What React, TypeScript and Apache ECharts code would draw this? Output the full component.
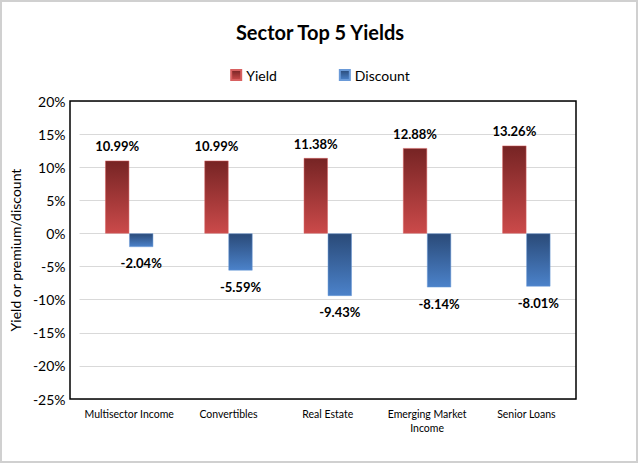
import React, { useEffect, useRef } from "react";
import * as echarts from "echarts";

const categories = ["Multisector Income", "Convertibles", "Real Estate", "Emerging Market\nIncome", "Senior Loans"];
const yieldValues = [10.99, 10.99, 11.38, 12.88, 13.26];
const discountValues = [-2.04, -5.59, -9.43, -8.14, -8.01];
const seriesNames = ["Yield", "Discount"];
const yMin = -25;
const yMax = 20;
const yInterval = 5;

const FONT = "Lato, 'Open Sans', sans-serif";

export default function App() {
  const ref = useRef<HTMLDivElement>(null);
  useEffect(() => {
    if (!ref.current) return;
    document.body.style.margin = "0";
    const chart = echarts.init(ref.current, null, { renderer: "svg" });
    const redGrad = new echarts.graphic.LinearGradient(0, 0, 0, 1, [
      { offset: 0, color: "#762424" },
      { offset: 1, color: "#cb4a4a" },
    ]);
    const blueGrad = new echarts.graphic.LinearGradient(0, 0, 0, 1, [
      { offset: 0, color: "#2a4a78" },
      { offset: 1, color: "#4b82ca" },
    ]);
    chart.setOption({
      animation: false,
      backgroundColor: "#ffffff",
      textStyle: { fontFamily: FONT },
      title: {
        text: "Sector Top 5 Yields",
        left: "center",
        top: 17,
        textStyle: { fontSize: 20, fontWeight: "bold", color: "#000", fontFamily: FONT },
      },
      legend: {
        data: seriesNames,
        top: 63,
        left: "center",
        itemWidth: 10,
        itemHeight: 10,
        itemGap: 62,
        icon: "rect",
        textStyle: { fontSize: 14, color: "#000", fontFamily: FONT },
      },
      graphic: [
        {
          type: "rect",
          shape: { x: 1, y: 1, width: 636, height: 461 },
          style: { fill: "none", stroke: "#d0d0d0", lineWidth: 2 },
          silent: true,
          z: 100,
        },
        {
          type: "rect",
          shape: { x: 70, y: 101, width: 506, height: 298 },
          style: { fill: "none", stroke: "#000", lineWidth: 1.5 },
          silent: true,
          z: 100,
        },
      ],
      grid: { left: 70, right: 64, top: 101, bottom: 65, containLabel: false },
      xAxis: {
        type: "category",
        data: categories,
        position: "bottom",
        axisLine: { show: false },
        axisTick: { show: false },
        axisLabel: {
          fontSize: 10.5,
          color: "#000",
          fontFamily: FONT,
          interval: 0,
          lineHeight: 14,
          margin: 8,
        },
      },
      yAxis: {
        type: "value",
        min: yMin,
        max: yMax,
        interval: yInterval,
        name: "Yield or premium/discount",
        nameLocation: "middle",
        nameGap: 46,
        nameTextStyle: { fontSize: 14, color: "#000", fontFamily: FONT },
        axisLine: { show: false },
        axisTick: { show: false },
        axisLabel: {
          formatter: (v: number) => `${v}%`,
          fontSize: 14,
          color: "#000",
          fontFamily: FONT,
          margin: 14,
        },
        splitLine: { lineStyle: { color: "#d9d9d9", width: 1 } },
      },
      series: [
        {
          name: seriesNames[0],
          type: "bar",
          data: yieldValues,
          barWidth: 24,
          barGap: "0%",
          itemStyle: { color: redGrad, borderColor: "#d86060", borderWidth: 0.5 },
          label: {
            show: true,
            position: "top",
            distance: 8,
            formatter: (p: any) => `${p.value.toFixed(2)}%`,
            fontSize: 13,
            fontWeight: "bold",
            color: "#000",
            fontFamily: FONT,
          },
        },
        {
          name: seriesNames[1],
          type: "bar",
          data: discountValues,
          barWidth: 24,
          barGap: "0%",
          itemStyle: { color: blueGrad, borderColor: "#6a9ad8", borderWidth: 0.5 },
          label: {
            show: true,
            position: "bottom",
            distance: 10,
            formatter: (p: any) => `${p.value.toFixed(2)}%`,
            fontSize: 13,
            fontWeight: "bold",
            color: "#000",
            fontFamily: FONT,
          },
        },
      ],
    });
    return () => chart.dispose();
  }, []);
  return (
    <div
      ref={ref}
      style={{ position: "absolute", left: 0, top: 0, width: 640, height: 464 }}
    />
  );
}
